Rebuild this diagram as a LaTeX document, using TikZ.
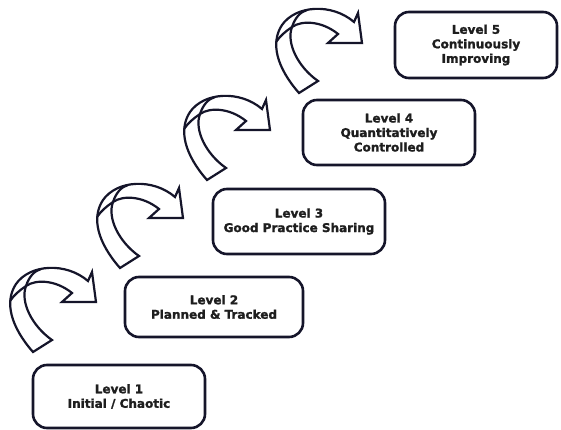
\documentclass[tikz,border=0pt]{standalone}
\usepackage{fontspec}
\setsansfont[BoldFeatures={FakeBold=1.6}]{DejaVu Sans}
\definecolor{ink}{HTML}{15152A}
\definecolor{txt}{HTML}{1E1E1E}
\tikzset{
  lvl/.style={draw=ink, line width=2.6pt, rounded corners=14pt, fill=white,
    align=center, text=txt, inner sep=0pt,
    font=\sffamily\bfseries\fontsize{12}{14.5}\selectfont},
  arr/.style={draw=ink, line width=2.2pt, line join=miter, fill=white},
  arrline/.style={draw=ink, line width=2.2pt},
  curvarrow/.pic={
    \path[arr] (-63,50) .. controls (-85,25) and (-92,0) .. (-80,-18)
      .. controls (-66,-38) and (-30,-40) .. (-8,-21)
      -- (-4,-30) -- (0,0) -- (-34,0) -- (-24,-9)
      .. controls (-40,-22) and (-60,-23) .. (-70,-16)
      .. controls (-76,0) and (-64,24) .. (-44,38) -- cycle;
    \path[arrline] (-70,-16) .. controls (-76,-12) and (-82,-7) .. (-86,-1);
    \path[arrline] (-70,-16) .. controls (-67,-25) and (-62,-31) .. (-55,-33);
  }
}
\begin{document}
\begin{tikzpicture}[x=1pt,y=-1pt]
\useasboundingbox (0,0) rectangle (561,430);
\pic at (96,302) {curvarrow};
\pic at (183,218) {curvarrow};
\pic at (270,130) {curvarrow};
\pic at (362,43) {curvarrow};
\node[lvl, minimum width=172pt, minimum height=63pt] (l1) at (119,396.5) {Level 1\\Initial / Chaotic};
\node[lvl, minimum width=178pt, minimum height=60pt] (l2) at (214,307) {Level 2\\Planned \& Tracked};
\node[lvl, minimum width=172pt, minimum height=65pt] (l3) at (299,221.5) {Level 3\\Good Practice Sharing};
\node[lvl, minimum width=172pt, minimum height=65pt] (l4) at (389,132.5) {Level 4\\Quantitatively\\Controlled};
\node[lvl, minimum width=162pt, minimum height=66pt] (l5) at (476,45) {Level 5\\Continuously\\Improving};
\end{tikzpicture}
\end{document}
